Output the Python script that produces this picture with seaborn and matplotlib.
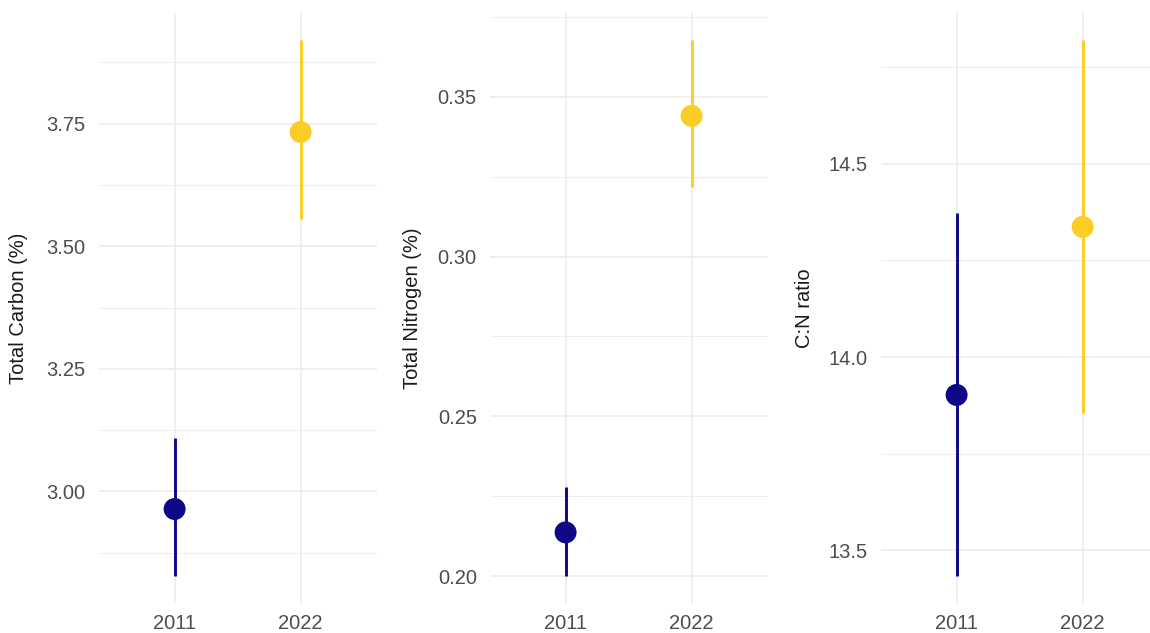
import matplotlib
matplotlib.use("Agg")
import matplotlib.pyplot as plt
import numpy as np
import pandas as pd
import seaborn as sns

# Sampling years
years = ["2011", "2022"]

# Total carbon (%): mean with lower / upper interval bounds
carbon_mean = [2.964, 3.733]
carbon_low = [2.827, 3.555]
carbon_high = [3.109, 3.921]

# Total nitrogen (%)
nitrogen_mean = [0.2137, 0.3440]
nitrogen_low = [0.2000, 0.3219]
nitrogen_high = [0.2279, 0.3678]

# C:N ratio
cn_mean = [13.902, 14.337]
cn_low = [13.433, 13.855]
cn_high = [14.373, 14.821]

panel_titles = ["Total Carbon (%)", "Total Nitrogen (%)", "C:N ratio"]
panel_major = [
    [3.00, 3.25, 3.50, 3.75],
    [0.20, 0.25, 0.30, 0.35],
    [13.5, 14.0, 14.5],
]
panel_labels = [
    ["3.00", "3.25", "3.50", "3.75"],
    ["0.20", "0.25", "0.30", "0.35"],
    ["13.5", "14.0", "14.5"],
]
panel_minor = [
    [2.875, 3.125, 3.375, 3.625, 3.875],
    [0.225, 0.275, 0.325, 0.375],
    [13.75, 14.25, 14.75],
]

palette = {"2011": "#0D0887", "2022": "#FCCE25"}

sns.set_theme(style="white")
plt.rcParams["font.family"] = ["Liberation Sans", "DejaVu Sans"]

W, H = 1150, 633
fig = plt.figure(figsize=(W / 100, H / 100), dpi=100)
fig.patch.set_facecolor("white")

# panel boxes in pixels: left, width
boxes = [(99, 278), (490, 278), (881, 269)]
top_px, bottom_px = 13, 603
ylabel_x = [19, 412, 804]
unit_px = 126.0

series = [
    (carbon_mean, carbon_low, carbon_high),
    (nitrogen_mean, nitrogen_low, nitrogen_high),
    (cn_mean, cn_low, cn_high),
]

for i, ((mean, low, high), (lpx, wpx)) in enumerate(zip(series, boxes)):
    ax = fig.add_axes([lpx / W, (H - bottom_px) / H, wpx / W, (bottom_px - top_px) / H])
    df = pd.DataFrame({"year": years, "mean": mean, "low": low, "high": high})

    # interval lines behind the points
    for _, row in df.iterrows():
        ax.vlines(row["year"], row["low"], row["high"], color=palette[row["year"]],
                  linewidth=2.1, zorder=2)
    sns.scatterplot(data=df, x="year", y="mean", hue="year", palette=palette,
                    s=250, edgecolor="none", legend=False, ax=ax, zorder=3)

    # ggplot-like 5% expansion of the data range
    lo, hi = min(low), max(high)
    pad = 0.05 * (hi - lo)
    ax.set_ylim(lo - pad, hi + pad)
    ax.set_xlim(-0.6, -0.6 + wpx / unit_px)

    ax.set_yticks(panel_major[i])
    ax.set_yticklabels(panel_labels[i])
    ax.set_yticks(panel_minor[i], minor=True)
    ax.grid(True, which="major", color="#EBEBEB", linewidth=1.1)
    ax.grid(True, which="minor", axis="y", color="#EBEBEB", linewidth=0.6)
    ax.set_axisbelow(True)
    for s in ax.spines.values():
        s.set_visible(False)
    ax.tick_params(axis="both", which="both", length=0, labelsize=14.5,
                   labelcolor="#4D4D4D")
    ax.tick_params(axis="y", pad=9.5)
    ax.tick_params(axis="x", pad=8)

    ax.set_xlabel("")
    ax.set_ylabel(panel_titles[i], fontsize=14.5, color="#1A1A1A")
    ax.yaxis.label.set_va("center")
    ax.yaxis.set_label_coords(ylabel_x[i] / W, (H - 308) / H, transform=fig.transFigure)

fig.savefig("out.png", dpi=100, facecolor="white")
